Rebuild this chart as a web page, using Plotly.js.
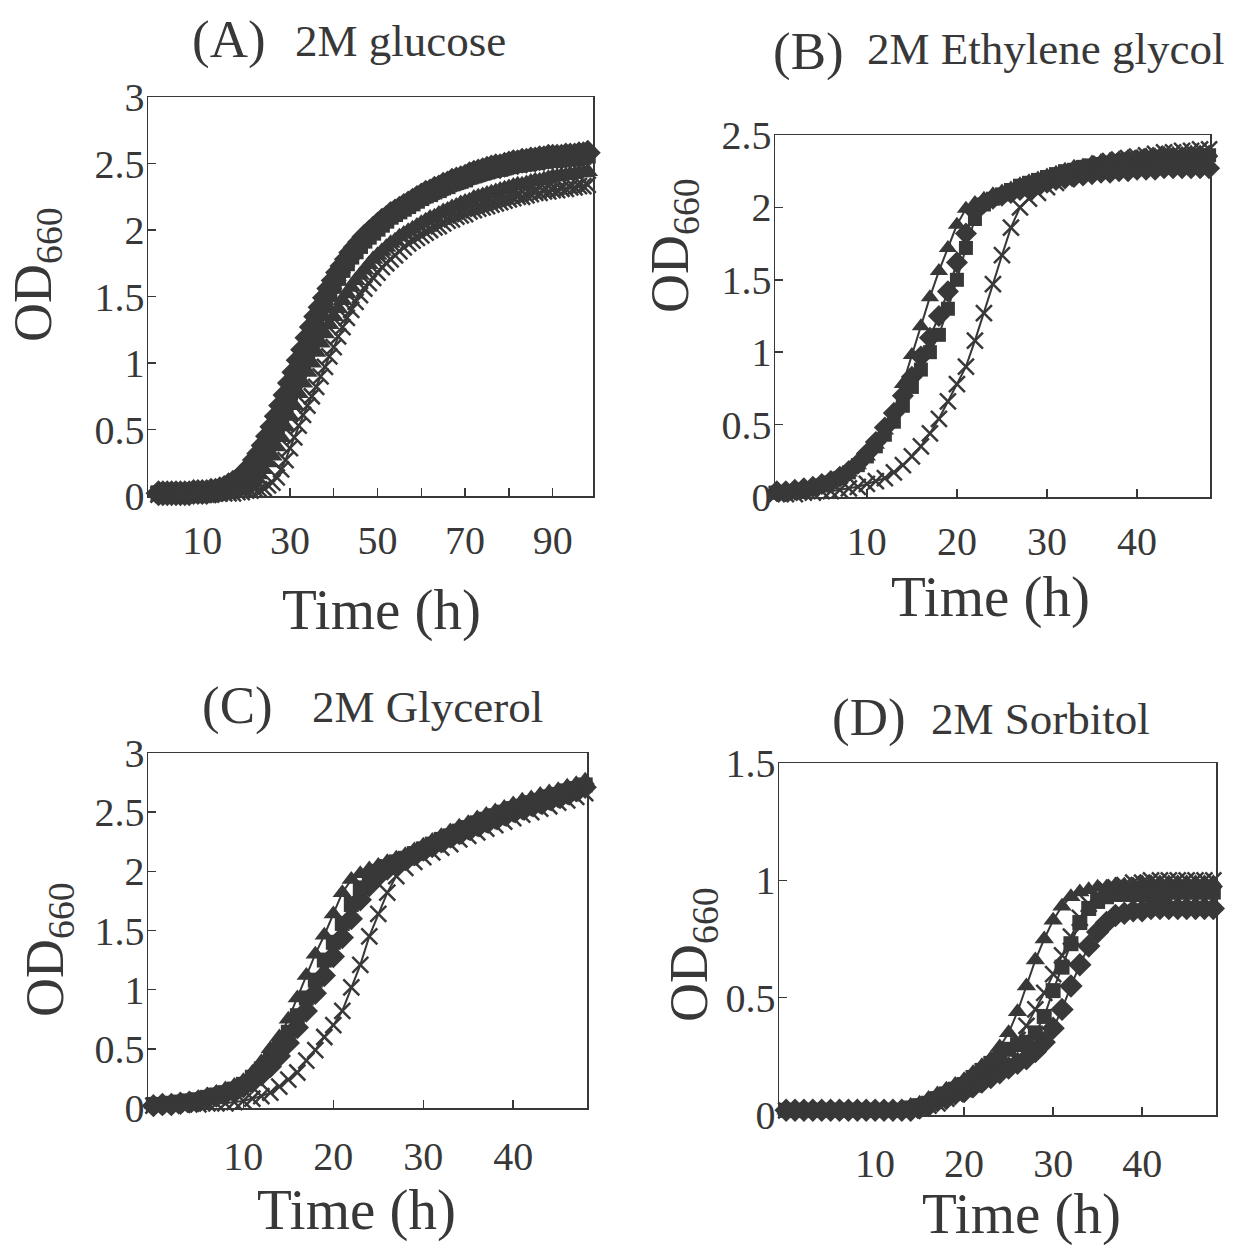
<!DOCTYPE html>
<html>
<head>
<meta charset="utf-8">
<script src="https://cdn.plot.ly/plotly-3.0.1.min.js"></script>
<style>html,body{margin:0;padding:0;background:#fff;}#chart{width:1233px;height:1245px;}</style>
</head>
<body>
<div id="chart"></div>
<script>
// ---------- Panel A: 2M glucose (hourly, 0-98 h) ----------
var timeA = [0,1,2,3,4,5,6,7,8,9,10,11,12,13,14,15,16,17,18,19,20,21,22,23,24,25,26,27,28,29,30,31,32,33,34,35,36,37,38,39,40,41,42,43,44,45,46,47,48,49,50,51,52,53,54,55,56,57,58,59,60,61,62,63,64,65,66,67,68,69,70,71,72,73,74,75,76,77,78,79,80,81,82,83,84,85,86,87,88,89,90,91,92,93,94,95,96,97,98];
var aDiamond = [0.02,0.02,0.02,0.02,0.02,0.02,0.02,0.02,0.03,0.03,
  0.03,0.03,0.04,0.04,0.05,0.06,0.08,0.10,0.12,0.15,
  0.18,0.22,0.27,0.32,0.38,0.45,0.52,0.60,0.68,0.76,
  0.85,0.93,1.02,1.10,1.19,1.27,1.35,1.42,1.49,1.56,
  1.62,1.68,1.73,1.78,1.83,1.87,1.91,1.95,1.98,2.01,
  2.04,2.07,2.09,2.12,2.14,2.16,2.18,2.20,2.22,2.24,
  2.26,2.28,2.29,2.31,2.32,2.34,2.35,2.37,2.38,2.39,
  2.40,2.42,2.43,2.44,2.45,2.46,2.47,2.48,2.48,2.49,
  2.50,2.51,2.51,2.52,2.52,2.53,2.53,2.54,2.54,2.55,
  2.55,2.55,2.55,2.56,2.56,2.56,2.57,2.57,2.58];
var aSquare = [0.02,0.02,0.02,0.02,0.02,0.02,0.02,0.02,0.02,0.02,
  0.02,0.03,0.03,0.03,0.04,0.05,0.06,0.08,0.10,0.12,
  0.15,0.19,0.23,0.28,0.33,0.39,0.46,0.53,0.61,0.69,
  0.78,0.87,0.96,1.04,1.13,1.22,1.30,1.38,1.45,1.52,
  1.58,1.64,1.70,1.75,1.80,1.84,1.88,1.92,1.95,1.98,
  2.01,2.04,2.07,2.10,2.12,2.14,2.16,2.18,2.20,2.22,
  2.24,2.26,2.27,2.29,2.30,2.32,2.33,2.35,2.36,2.37,
  2.38,2.40,2.41,2.42,2.43,2.44,2.45,2.46,2.46,2.47,
  2.48,2.49,2.49,2.50,2.50,2.51,2.51,2.52,2.52,2.53,
  2.53,2.53,2.53,2.54,2.54,2.54,2.55,2.55,2.56];
var aTriangle = [0.02,0.02,0.02,0.02,0.02,0.02,0.02,0.02,0.02,0.02,
  0.02,0.02,0.03,0.03,0.03,0.04,0.04,0.05,0.05,0.06,
  0.08,0.10,0.13,0.16,0.20,0.25,0.30,0.37,0.44,0.52,
  0.60,0.68,0.77,0.85,0.93,1.00,1.08,1.15,1.22,1.29,
  1.35,1.41,1.47,1.52,1.57,1.62,1.66,1.70,1.74,1.78,
  1.81,1.84,1.87,1.90,1.92,1.95,1.97,1.99,2.01,2.03,
  2.05,2.07,2.09,2.10,2.12,2.14,2.15,2.17,2.18,2.20,
  2.21,2.22,2.24,2.25,2.26,2.27,2.28,2.29,2.30,2.31,
  2.32,2.33,2.34,2.34,2.35,2.36,2.37,2.37,2.38,2.39,
  2.40,2.40,2.41,2.41,2.42,2.42,2.43,2.43,2.44];
var aCross = [0.01,0.01,0.01,0.01,0.01,0.01,0.01,0.01,0.01,0.01,
  0.01,0.01,0.01,0.02,0.02,0.02,0.02,0.02,0.03,0.03,
  0.04,0.04,0.05,0.05,0.06,0.08,0.10,0.14,0.20,0.27,
  0.36,0.44,0.53,0.61,0.68,0.75,0.82,0.90,0.97,1.05,
  1.12,1.20,1.27,1.34,1.40,1.46,1.51,1.56,1.60,1.64,
  1.68,1.72,1.75,1.78,1.81,1.84,1.87,1.90,1.92,1.94,
  1.96,1.98,2.00,2.02,2.03,2.05,2.07,2.08,2.10,2.11,
  2.12,2.14,2.15,2.16,2.17,2.18,2.19,2.20,2.21,2.22,
  2.23,2.24,2.25,2.25,2.26,2.27,2.28,2.28,2.29,2.29,
  2.30,2.30,2.31,2.31,2.32,2.32,2.33,2.33,2.34];

// ---------- Panels B-D: hourly, 0-48 h ----------
var time48 = [0,1,2,3,4,5,6,7,8,9,10,11,12,13,14,15,16,17,18,19,20,21,22,23,24,25,26,27,28,29,30,31,32,33,34,35,36,37,38,39,40,41,42,43,44,45,46,47,48];

// Panel B: 2M Ethylene glycol
var bDiamond = [0.04,0.04,0.05,0.06,0.07,0.09,0.11,0.14,0.18,0.23,
  0.30,0.38,0.48,0.58,0.70,0.83,0.97,1.10,1.25,1.42,
  1.62,1.82,1.97,2.03,2.06,2.08,2.10,2.12,2.14,2.16,
  2.17,2.19,2.20,2.21,2.22,2.23,2.24,2.24,2.25,2.25,
  2.26,2.26,2.26,2.27,2.27,2.27,2.27,2.27,2.27];
var bSquare = [0.03,0.03,0.04,0.05,0.06,0.08,0.10,0.13,0.17,0.22,
  0.28,0.35,0.43,0.52,0.63,0.76,0.88,1.00,1.12,1.30,
  1.50,1.72,1.92,2.02,2.06,2.09,2.12,2.15,2.17,2.19,
  2.21,2.23,2.25,2.26,2.28,2.29,2.30,2.31,2.32,2.33,
  2.33,2.34,2.34,2.35,2.35,2.35,2.36,2.36,2.36];
var bTriangle = [0.03,0.03,0.04,0.05,0.06,0.08,0.10,0.13,0.17,0.22,
  0.28,0.36,0.46,0.60,0.78,0.98,1.18,1.38,1.56,1.72,
  1.88,1.99,2.03,2.06,2.09,2.11,2.13,2.16,2.18,2.20,
  2.22,2.24,2.26,2.28,2.29,2.31,2.32,2.33,2.34,2.35,
  2.35,2.36,2.36,2.37,2.37,2.37,2.38,2.38,2.38];
var bCross = [0.02,0.02,0.02,0.03,0.03,0.04,0.04,0.05,0.06,0.07,
  0.09,0.11,0.13,0.17,0.22,0.28,0.35,0.44,0.54,0.66,
  0.78,0.90,1.08,1.27,1.47,1.67,1.86,2.00,2.06,2.10,
  2.14,2.17,2.20,2.23,2.26,2.28,2.30,2.32,2.33,2.34,
  2.35,2.36,2.37,2.38,2.38,2.39,2.39,2.40,2.40];

// Panel C: 2M Glycerol
var cDiamond = [0.02,0.03,0.03,0.04,0.05,0.06,0.08,0.10,0.12,0.15,
  0.18,0.22,0.28,0.35,0.44,0.55,0.68,0.82,0.97,1.12,
  1.28,1.44,1.60,1.76,1.88,1.96,2.02,2.06,2.10,2.14,
  2.18,2.21,2.25,2.29,2.32,2.36,2.39,2.42,2.45,2.48,
  2.51,2.53,2.56,2.58,2.61,2.63,2.66,2.68,2.71];
var cSquare = [0.03,0.03,0.04,0.05,0.06,0.07,0.09,0.11,0.13,0.16,
  0.20,0.26,0.33,0.42,0.52,0.64,0.78,0.93,1.08,1.25,
  1.40,1.56,1.72,1.86,1.95,2.00,2.04,2.08,2.11,2.15,
  2.19,2.23,2.27,2.30,2.34,2.37,2.41,2.44,2.47,2.50,
  2.53,2.55,2.58,2.60,2.63,2.65,2.68,2.70,2.73];
var cTriangle = [0.03,0.03,0.04,0.05,0.06,0.08,0.11,0.13,0.16,0.19,
  0.23,0.30,0.39,0.50,0.60,0.75,0.93,1.12,1.30,1.46,
  1.64,1.82,1.93,1.98,2.02,2.05,2.08,2.11,2.14,2.18,
  2.22,2.26,2.30,2.34,2.38,2.41,2.45,2.48,2.51,2.54,
  2.57,2.60,2.62,2.65,2.67,2.69,2.72,2.74,2.77];
var cCross = [0.02,0.02,0.02,0.03,0.03,0.03,0.04,0.04,0.04,0.05,
  0.06,0.08,0.10,0.13,0.18,0.24,0.30,0.40,0.49,0.60,
  0.70,0.82,1.02,1.21,1.45,1.64,1.82,1.96,2.03,2.08,
  2.12,2.16,2.20,2.23,2.27,2.30,2.33,2.36,2.39,2.42,
  2.45,2.48,2.50,2.53,2.55,2.58,2.60,2.63,2.66];

// Panel D: 2M Sorbitol
var dDiamond = [0.02,0.02,0.02,0.02,0.02,0.02,0.02,0.02,0.02,0.02,
  0.02,0.02,0.02,0.02,0.02,0.03,0.04,0.06,0.07,0.09,
  0.10,0.12,0.14,0.16,0.18,0.20,0.22,0.24,0.27,0.31,
  0.37,0.45,0.55,0.64,0.72,0.78,0.82,0.85,0.86,0.87,
  0.87,0.88,0.88,0.88,0.88,0.88,0.88,0.88,0.88];
var dSquare = [0.02,0.02,0.02,0.02,0.02,0.02,0.02,0.02,0.02,0.02,
  0.02,0.02,0.02,0.02,0.03,0.04,0.05,0.07,0.09,0.11,
  0.13,0.16,0.19,0.22,0.25,0.28,0.30,0.31,0.35,0.42,
  0.53,0.63,0.73,0.82,0.88,0.91,0.93,0.94,0.94,0.94,
  0.94,0.94,0.94,0.95,0.95,0.95,0.95,0.95,0.95];
var dTriangle = [0.02,0.02,0.02,0.02,0.02,0.02,0.02,0.02,0.02,0.02,
  0.02,0.02,0.02,0.03,0.04,0.05,0.07,0.09,0.11,0.13,
  0.15,0.18,0.21,0.24,0.29,0.35,0.44,0.55,0.66,0.75,
  0.83,0.89,0.93,0.95,0.96,0.97,0.97,0.98,0.98,0.98,
  0.99,0.99,0.99,0.99,0.99,0.99,0.99,0.99,0.99];
var dCross = [0.02,0.02,0.02,0.02,0.02,0.02,0.02,0.02,0.02,0.02,
  0.02,0.02,0.02,0.02,0.02,0.03,0.04,0.05,0.07,0.09,
  0.11,0.13,0.16,0.19,0.23,0.27,0.32,0.38,0.45,0.52,
  0.60,0.68,0.76,0.84,0.90,0.94,0.96,0.97,0.98,0.99,
  0.99,1.00,1.00,1.00,1.00,1.00,1.00,1.00,1.00];

// ---------- labels ----------
var panelLetters = ['(A)', '(B)', '(C)', '(D)'];
var panelNames = ['2M glucose', '2M Ethylene glycol', '2M Glycerol', '2M Sorbitol'];
var xTitle = 'Time (h)';
var yTitle = 'OD<sub>660</sub>';

var INK = '#383838';
var FONT = 'Liberation Serif, Times New Roman, serif';

function series(x, y, xa, ya, sym, scale) {
  var isX = sym === 'x-thin-open';
  var sz = {'diamond': 17, 'square': 14, 'triangle-up': 16};
  return {
    type: 'scatter', mode: 'lines+markers', x: x, y: y, xaxis: xa, yaxis: ya,
    cliponaxis: false, hoverinfo: 'skip',
    line: {color: INK, width: 2},
    marker: isX ? {symbol: sym, size: 16, color: INK, line: {color: INK, width: 2.5}}
                : {symbol: sym, size: Math.round(sz[sym] * scale), color: INK, line: {width: 0}}
  };
}

var syms = ['diamond', 'square', 'triangle-up', 'x-thin-open'];
var data = [];
[aDiamond, aSquare, aTriangle, aCross].forEach(function (s, i) { data.push(series(timeA, s, 'x', 'y', syms[i], 1.15)); });
[bDiamond, bSquare, bTriangle, bCross].forEach(function (s, i) { data.push(series(time48, s, 'x2', 'y2', syms[i], 1)); });
[cDiamond, cSquare, cTriangle, cCross].forEach(function (s, i) { data.push(series(time48, s, 'x3', 'y3', syms[i], 1.05)); });
[dDiamond, dSquare, dTriangle, dCross].forEach(function (s, i) { data.push(series(time48, s, 'x4', 'y4', syms[i], 1.05)); });

function xax(domain, range, tickvals, ticktext, anchor, standoff) {
  return {
    domain: domain, range: range, anchor: anchor,
    tickmode: 'array', tickvals: tickvals, ticktext: ticktext,
    ticks: 'inside', ticklen: 8, tickwidth: 1.5, tickcolor: INK,
    showline: true, mirror: true, linecolor: INK, linewidth: 1.5,
    showgrid: false, zeroline: false, ticklabelstandoff: standoff,
    tickfont: {family: FONT, size: 40, color: INK}
  };
}
function yax(domain, range, tickvals, anchor) {
  return {
    domain: domain, range: range, anchor: anchor,
    tickmode: 'array', tickvals: tickvals,
    ticktext: tickvals.map(function (v) { return String(v); }),
    ticks: 'inside', ticklen: 8, tickwidth: 1.5, tickcolor: INK,
    showline: true, mirror: true, linecolor: INK, linewidth: 1.5,
    showgrid: false, zeroline: false, ticklabelstandoff: -6,
    tickfont: {family: FONT, size: 40, color: INK}
  };
}

var W = 1233, H = 1245;
function px(v) { return v / W; }
function py(v) { return 1 - v / H; }

var ann = [];
function addText(text, xp, yp, size, xanchor, angle) {
  ann.push({text: text, xref: 'paper', yref: 'paper', x: px(xp), y: py(yp),
    xanchor: xanchor, yanchor: 'middle', showarrow: false, textangle: angle || 0,
    font: {family: FONT, size: size, color: INK}});
}
// panel titles
addText(panelLetters[0], 190, 40, 53, 'left');
addText(panelNames[0], 293, 41, 45, 'left');
addText(panelLetters[1], 771, 51, 53, 'left');
addText(panelNames[1], 865, 49, 45, 'left');
addText(panelLetters[2], 200, 705, 53, 'left');
addText(panelNames[2], 310, 707, 45, 'left');
addText(panelLetters[3], 830, 717, 53, 'left');
addText(panelNames[3], 929, 719, 45, 'left');
// x titles
addText(xTitle, 381, 610, 57, 'center');
addText(xTitle, 990, 597, 57, 'center');
addText(xTitle, 356, 1210, 57, 'center');
addText(xTitle, 1021, 1214, 57, 'center');
// y titles
addText(yTitle, 37, 275, 54, 'center', -90);
addText(yTitle, 673, 246, 54, 'center', -90);
addText(yTitle, 48, 950, 54, 'center', -90);
addText(yTitle, 692, 955, 54, 'center', -90);

var layout = {
  width: W, height: H,
  margin: {l: 0, r: 0, t: 0, b: 0},
  paper_bgcolor: '#ffffff', plot_bgcolor: '#ffffff',
  showlegend: false,
  xaxis: xax([px(148), px(593)], [-2.4, 99.2], [10,20,30,40,50,60,70,80,90], ['10','','30','','50','','70','','90'], 'y', 8),
  yaxis: yax([py(496), py(97)], [0, 3], [0,0.5,1,1.5,2,2.5,3], 'x'),
  xaxis2: xax([px(775), px(1210)], [-0.2, 48.1], [10,20,30,40], ['10','20','30','40'], 'y2', 8),
  yaxis2: yax([py(497), py(135)], [0, 2.5], [0,0.5,1,1.5,2,2.5], 'x2'),
  xaxis3: xax([px(148), px(587)], [-0.6, 48.2], [10,20,30,40], ['10','20','30','40'], 'y3', 12),
  yaxis3: yax([py(1108), py(753)], [0, 3], [0,0.5,1,1.5,2,2.5,3], 'x3'),
  xaxis4: xax([px(779), px(1216)], [-0.8, 48.3], [10,20,30,40], ['10','20','30','40'], 'y4', 12),
  yaxis4: yax([py(1115), py(763)], [0, 1.5], [0,0.5,1,1.5], 'x4'),
  annotations: ann
};

Plotly.newPlot('chart', data, layout, {staticPlot: true, displayModeBar: false});
</script>
</body>
</html>
